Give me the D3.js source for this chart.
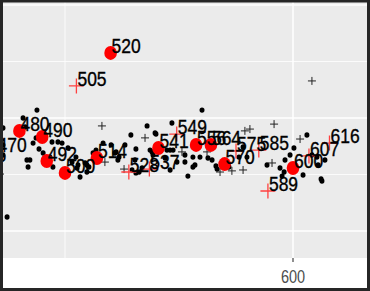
<!DOCTYPE html>
<html>
<head>
<meta charset="utf-8">
<script src="https://cdn.jsdelivr.net/npm/d3@7"></script>
<style>
  body { margin: 0; background: #fff; }
  svg { display: block; }
</style>
</head>
<body>
<div id="my_dataviz"></div>
<script>
// grey points (x value, y value)
const dotX = [487.7, 481.6, 482.5, 472.8, 472.8, 472.8, 487.3, 486.0, 488.6, 490.4, 483.3, 484.6, 483.8, 494.3, 496.9, 498.7, 493.4, 494.7, 501.3, 503.1,
  474.6, 504.8, 506.6, 505.3, 509.6, 508.8, 510.5, 512.3, 516.7, 521.9, 523.2, 526.3, 528.9, 536.0, 531.1, 520.2, 529.4, 531.1, 532.5, 533.8,
  560.1, 546.9, 539.9, 530.7, 538.2, 544.7, 546.1, 547.4, 552.6, 543.9, 549.1, 546.1, 553.9, 556.1, 556.1, 559.2, 562.7, 564.5, 566.2, 566.7,
  578.1, 579.8, 539.5, 537.3, 538.6, 552.6, 557.0, 571.9, 576.3, 600.4, 598.7, 596.5, 594.3, 596.1, 595.2, 588.6, 606.1, 604.4, 612.7, 612.3,
  614.0, 610.5, 611.0, 608.3, 523.7, 522.4, 513.6, 505.7, 509.6]
const dotY = [53.5, 50.0, 46.0, 45.6, 38.1, 33.6, 41.2, 38.9, 36.3, 34.5, 31.4, 31.4, 28.3, 39.4, 39.4, 38.9, 32.7, 28.3, 36.7, 30.5,
  6.2, 32.7, 23.9, 27.9, 26.1, 30.1, 28.3, 34.5, 38.9, 34.5, 31.4, 38.1, 42.5, 46.5, 36.3, 38.1, 27.0, 25.7, 26.1, 27.9,
  53.5, 47.8, 42.9, 31.4, 35.0, 35.8, 35.8, 35.8, 33.6, 32.3, 30.5, 27.0, 24.3, 28.3, 32.7, 32.7, 32.3, 31.4, 28.8, 27.4,
  37.2, 32.7, 43.4, 35.8, 33.6, 30.5, 29.2, 28.3, 32.7, 36.7, 33.6, 31.4, 27.9, 26.1, 24.3, 29.2, 42.5, 24.8, 22.1, 23.0,
  31.4, 32.7, 29.2, 33.6, 32.7, 35.0, 35.8, 29.2, 29.2]

// black crosses
const crossX = [471.5, 516.2, 517.5, 525.9, 535.1, 551.3, 562.3, 568.0, 573.2, 578.1, 578.9, 581.1, 591.7, 590.8, 603.1, 608.3]
const crossY = [25.2, 46.5, 30.5, 27.4, 41.2, 35.0, 35.0, 26.1, 26.6, 27.0, 44.3, 45.1, 47.3, 30.1, 40.7, 66.4]

// highlighted circles
const redDotLabel = ["465", "470", "480", "490", "492", "500", "514", "520", "541", "556", "564", "570", "600"]
const redDotX = [461.0, 470, 480, 490, 492, 500, 514, 520, 541, 557.5, 564, 570, 600]
const redDotY = [30.5, 35.0, 44.3, 41.6, 31.0, 25.7, 32.3, 78.8, 36.7, 38.1, 38.1, 29.6, 27.9]

// highlighted crosses
const redCrossLabel = ["505", "528", "537", "549", "575", "585", "589", "607", "616"]
const redCrossX = [505, 528, 537, 549, 575, 585, 589, 607, 616]
const redCrossY = [64.2, 26.1, 27.4, 42.9, 35.4, 35.8, 17.7, 33.2, 38.9]

const xTicks = [600]
const xMinor = [500]
const yMajor = [0, 50, 100]
const yMinor = [25, 75]

const W = 370, H = 291
const panel = { left: 3, right: 367, top: 2, bottom: 258 }

const svg = d3.select("#my_dataviz")
  .append("svg")
  .attr("width", W)
  .attr("height", H)

const x = d3.scaleLinear().domain([500, 600]).range([65, 293])
const y = d3.scaleLinear().domain([0, 100]).range([231, 5])

svg.append("defs").append("clipPath").attr("id", "clip")
  .append("rect")
  .attr("x", panel.left).attr("y", panel.top)
  .attr("width", panel.right - panel.left).attr("height", panel.bottom - panel.top)

// panel background
svg.append("rect")
  .attr("x", panel.left).attr("y", panel.top)
  .attr("width", panel.right - panel.left).attr("height", panel.bottom - panel.top)
  .attr("fill", "#EBEBEB")

const g = svg.append("g").attr("clip-path", "url(#clip)")

// grid
g.selectAll(".yminor").data(yMinor).join("line")
  .attr("x1", panel.left).attr("x2", panel.right)
  .attr("y1", d => y(d)).attr("y2", d => y(d))
  .attr("stroke", "#fff").attr("stroke-width", 0.8)
g.selectAll(".xminor").data(xMinor).join("line")
  .attr("y1", panel.top).attr("y2", panel.bottom)
  .attr("x1", d => x(d)).attr("x2", d => x(d))
  .attr("stroke", "#fff").attr("stroke-width", 0.8)
g.selectAll(".ymajor").data(yMajor).join("line")
  .attr("x1", panel.left).attr("x2", panel.right)
  .attr("y1", d => y(d)).attr("y2", d => y(d))
  .attr("stroke", "#fff").attr("stroke-width", 1.5)
g.selectAll(".xmajor").data(xTicks).join("line")
  .attr("y1", panel.top).attr("y2", panel.bottom)
  .attr("x1", d => x(d)).attr("x2", d => x(d))
  .attr("stroke", "#fff").attr("stroke-width", 1.5)

const plus = (cx, cy, r) => `M${cx - r},${cy}H${cx + r}M${cx},${cy - r}V${cy + r}`

// black points
g.selectAll(".dot").data(d3.range(dotX.length)).join("ellipse")
  .attr("cx", i => x(dotX[i])).attr("cy", i => y(dotY[i]))
  .attr("rx", 2.5).attr("ry", 2.7)
  .attr("fill", "#000")

g.selectAll(".cross").data(d3.range(crossX.length)).join("path")
  .attr("d", i => plus(x(crossX[i]), y(crossY[i]), 4))
  .attr("stroke", "#222").attr("stroke-width", 1).attr("fill", "none")

// red highlights
g.selectAll(".rdot").data(d3.range(redDotX.length)).join("ellipse")
  .attr("cx", i => x(redDotX[i])).attr("cy", i => y(redDotY[i]))
  .attr("rx", 6.3).attr("ry", 7)
  .attr("fill", "#ff0000")

g.selectAll(".rcross").data(d3.range(redCrossX.length)).join("path")
  .attr("d", i => plus(x(redCrossX[i]), y(redCrossY[i]), 7.5))
  .attr("stroke", "#ff4040").attr("stroke-width", 1.3).attr("fill", "none")

// labels (slightly tall, like the source)
const labels = redDotLabel.map((l, i) => ({ l, vx: redDotX[i], vy: redDotY[i] }))
  .concat(redCrossLabel.map((l, i) => ({ l, vx: redCrossX[i], vy: redCrossY[i] })))

g.selectAll(".lab").data(labels).join("text")
  .attr("transform", d => `translate(${x(d.vx) + 1},${y(d.vy)}) scale(1,1.15)`)
  .text(d => d.l)
  .style("font-family", "Liberation Sans, Arial, sans-serif")
  .style("font-size", "17.5px")
  .attr("fill", "#000")
  .attr("stroke", "#000")
  .attr("stroke-width", 0.3)

// x axis
svg.selectAll(".tick").data(xTicks).join("line")
  .attr("x1", d => x(d)).attr("x2", d => x(d))
  .attr("y1", panel.bottom).attr("y2", panel.bottom + 4)
  .attr("stroke", "#333").attr("stroke-width", 1.1)
svg.selectAll(".ticklab").data(xTicks).join("text")
  .attr("transform", d => `translate(${x(d)},283) scale(1,1.25)`)
  .attr("text-anchor", "middle")
  .text(d => d)
  .style("font-family", "Liberation Sans, Arial, sans-serif")
  .style("font-size", "14.5px")
  .attr("fill", "#4D4D4D")

// outer frame
svg.append("rect")
  .attr("x", 1.5).attr("y", 1).attr("width", W - 3).attr("height", H - 2.5)
  .attr("fill", "none").attr("stroke", "#262626").attr("stroke-width", 3)
</script>
</body>
</html>
